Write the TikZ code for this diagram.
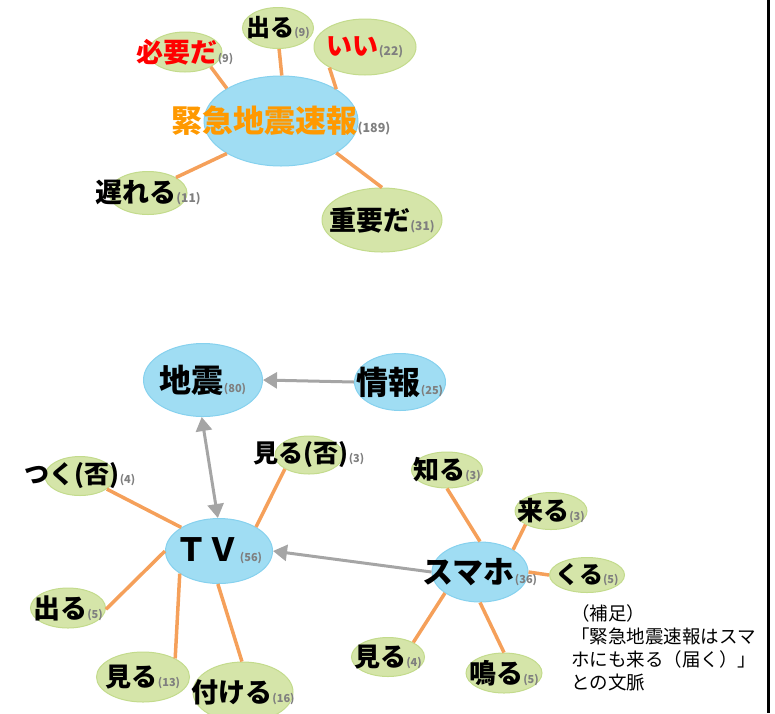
\documentclass[tikz,border=0pt]{standalone}
\usepackage{fontspec}
\setmainfont{Noto Sans CJK JP}
\usepackage{xcolor}
\usepackage{tikz}
\usetikzlibrary{arrows.meta,shapes.geometric}
\definecolor{bubFill}{HTML}{A0DDF3}
\definecolor{bubLine}{HTML}{86D1EE}
\definecolor{satFill}{HTML}{D5E5A9}
\definecolor{satLine}{HTML}{C3DB8C}
\definecolor{edgeOr}{HTML}{F5A05A}
\definecolor{arrGray}{HTML}{A5A5A5}
\definecolor{cntGray}{HTML}{7F7F7F}
\definecolor{kwOrange}{HTML}{FF9900}
\definecolor{kwRed}{HTML}{FF0000}
\newcommand\fsz[1]{\fontsize{#1}{#1}\selectfont}
\newcommand\cnum[2][11]{{\fontsize{#1}{#1}\selectfont\color{cntGray}(#2)}}

\begin{document}
\begin{tikzpicture}[x=1pt, y=-1pt,
  bub/.style={ellipse, draw=bubLine, fill=bubFill, line width=1pt, inner sep=0pt},
  sat/.style={ellipse, draw=satLine, fill=satFill, line width=1pt, inner sep=0pt},
  lb/.style={inner sep=0pt, font=\bfseries},
  ln/.style={draw=edgeOr, line width=3.5pt},
  ar/.style={draw=arrGray, line width=3pt, -{Triangle[length=14pt,width=16pt]}}]
  \useasboundingbox (0,0) rectangle (775,713);
  \clip (0,0) rectangle (775,713);
  \node[bub, minimum width=154, minimum height=90] (kinkyu) at (281,121) {};
  \node[sat, minimum width=74, minimum height=40] (hitsuyo) at (185,52) {}; \node[sat, minimum width=71, minimum height=41] (deru1) at (278,28) {};
  \node[sat, minimum width=102, minimum height=56] (ii) at (365,47) {}; \node[sat, minimum width=78, minimum height=43] (okureru) at (148,193) {};
  \node[sat, minimum width=120, minimum height=64] (juyo) at (382,220) {};
  \foreach \u/\v in {hitsuyo.-30/kinkyu.149, deru1.-87/kinkyu.89, ii.-150/kinkyu.30, okureru.29/kinkyu.-149, juyo.90/kinkyu.-30} \draw[ln] (\u) -- (\v);
  \node[lb] (kinkyu-t) at (kinkyu) {\fsz{31}\textcolor{kwOrange}{緊急地震速報}\cnum[12.5]{189}};
  \node[lb] (hitsuyo-t) at (hitsuyo) {\fsz{27}\textcolor{kwRed}{必要だ}\cnum{9}}; \node[lb] (deru1-t) at (deru1) {\fsz{24}出る\cnum{9}};
  \node[lb] (ii-t) at (ii) {\fsz{26}\textcolor{kwRed}{いい}\cnum[12]{22}}; \node[lb] (okureru-t) at (okureru) {\fsz{27}遅れる\cnum[12]{11}};
  \node[lb] (juyo-t) at (juyo) {\fsz{27}重要だ\cnum[12]{31}};
  \node[bub, minimum width=119, minimum height=73] (jishin) at (203,380) {}; \node[bub, minimum width=91, minimum height=57] (joho) at (400,382) {};
  \node[bub, minimum width=107, minimum height=65] (tv) at (219,551) {}; \node[bub, minimum width=96, minimum height=60] (sumaho) at (480,572) {};
  \node[sat, minimum width=68, minimum height=38] (miruhi) at (309,455) {}; \node[sat, minimum width=70, minimum height=39] (tsuku) at (80,476) {};
  \node[sat, minimum width=75, minimum height=40] (deru2) at (68,608) {}; \node[sat, minimum width=93, minimum height=50] (miru13) at (143,677) {};
  \node[sat, minimum width=100, minimum height=60] (tsukeru) at (243,692) {};
  \node[sat, minimum width=71, minimum height=36] (shiru) at (447,470) {}; \node[sat, minimum width=72, minimum height=37] (kuru1) at (551,511) {};
  \node[sat, minimum width=75, minimum height=35] (kuru2) at (587,575) {}; \node[sat, minimum width=73, minimum height=39] (miru4) at (388,657) {};
  \node[sat, minimum width=76, minimum height=40] (naru) at (504,673) {};
  \foreach \u/\v in {miruhi.-150/tv.33, tsuku.-26/tv.148, deru2.-2/tv.180, miru13.30/tv.-150, tsukeru.92/tv.-92,
    shiru.-90/sumaho.90, kuru1.-152/sumaho.34, kuru2.180/sumaho.0, miru4.30/sumaho.-149, naru.90/sumaho.-90} \draw[ln] (\u) -- (\v);
  \draw[ar] (joho.180) -- (jishin.0);
  \draw[ar, {Triangle[length=14pt,width=16pt]}-{Triangle[length=14pt,width=16pt]}] (jishin.-92) -- (tv.92);
  \draw[ar] (sumaho.180) -- (tv.0);
  \node[lb] (jishin-t) at (jishin) {\fsz{32}地震\cnum{80}}; \node[lb] (joho-t) at (joho) {\fsz{32}情報\cnum{25}};
  \node[lb] (tv-t) at (tv) {\fsz{32}ＴＶ\cnum{56}}; \node[lb] (sumaho-t) at (sumaho) {\fsz{31}スマホ\cnum{36}};
  \node[lb] (miruhi-t) at (miruhi) {\fsz{25}見る(否)\cnum{3}}; \node[lb] (tsuku-t) at (tsuku) {\fsz{25}つく(否)\cnum{4}};
  \node[lb] (deru2-t) at (deru2) {\fsz{27}出る\cnum{5}}; \node[lb] (miru13-t) at (miru13) {\fsz{26}見る\cnum{13}};
  \node[lb] (tsukeru-t) at (tsukeru) {\fsz{27}付ける\cnum{16}};
  \node[lb] (shiru-t) at (shiru) {\fsz{26}知る\cnum{3}}; \node[lb] (kuru1-t) at (kuru1) {\fsz{26}来る\cnum{3}};
  \node[lb] (kuru2-t) at (kuru2) {\fsz{24}くる\cnum{5}}; \node[lb] (miru4-t) at (miru4) {\fsz{26}見る\cnum{4}};
  \node[lb] (naru-t) at (naru) {\fsz{27}鳴る\cnum{5}};
  \node[anchor=north west, inner sep=0pt, align=left, font=\fontsize{18.5}{23}\selectfont] (hosoku) at (571,604)
    {（補足）\\「緊急地震速報はスマ\\ホにも来る（届く）」\\との文脈};
  \draw[line width=3pt] (768,0) -- (768,713);
\end{tikzpicture}
\end{document}
